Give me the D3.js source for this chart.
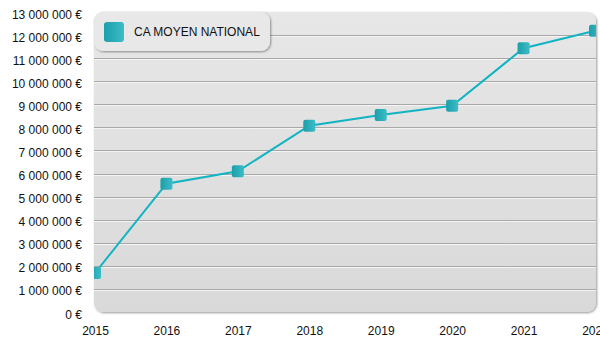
<!DOCTYPE html>
<html>
<head>
<meta charset="utf-8">
<script src="https://cdn.jsdelivr.net/npm/d3@7/dist/d3.min.js"></script>
<style>
  html, body { margin: 0; padding: 0; background: #fff; }
  svg { display: block; font-family: "Liberation Sans", Arial, sans-serif; }
</style>
</head>
<body>
<svg id="chart" width="600" height="350"></svg>
<script>
// Average national revenue per year
const years = ["2015", "2016", "2017", "2018", "2019", "2020", "2021", "2022"];
const revenue = [1690000, 5560000, 6100000, 8070000, 8540000, 8940000, 11430000, 12190000];
const yTicks = [0, 1000000, 2000000, 3000000, 4000000, 5000000, 6000000,
                7000000, 8000000, 9000000, 10000000, 11000000, 12000000, 13000000];
const seriesName = "CA MOYEN NATIONAL";

const svg = d3.select("#chart");
const plot = { left: 94, right: 596, top: 12, bottom: 312 };

const x = d3.scalePoint().domain(years).range([95, 595]);
const y = d3.scaleLinear().domain([0, 13000000]).range([plot.bottom, plot.top]);

const defs = svg.append("defs");

const bg = defs.append("linearGradient").attr("id", "bgGrad")
  .attr("x1", 0).attr("y1", 0).attr("x2", 0).attr("y2", 1);
bg.append("stop").attr("offset", "0%").attr("stop-color", "#e7e7e7");
bg.append("stop").attr("offset", "100%").attr("stop-color", "#d9d9d9");

const mk = defs.append("linearGradient").attr("id", "markGrad")
  .attr("x1", 0).attr("y1", 0).attr("x2", 1).attr("y2", 0);
mk.append("stop").attr("offset", "0%").attr("stop-color", "#1c9fab");
mk.append("stop").attr("offset", "100%").attr("stop-color", "#3cbcc6");

defs.append("clipPath").attr("id", "plotClip")
  .append("rect")
  .attr("x", plot.left).attr("y", plot.top)
  .attr("width", plot.right - plot.left).attr("height", plot.bottom - plot.top)
  .attr("rx", 9);

const shadow = defs.append("filter").attr("id", "shadow")
  .attr("x", "-10%").attr("y", "-10%").attr("width", "130%").attr("height", "130%");
shadow.append("feDropShadow").attr("dx", 1).attr("dy", 1)
  .attr("stdDeviation", 0.8).attr("flood-color", "#000").attr("flood-opacity", 0.4);

// Plot background with a soft edge shadow
svg.append("rect")
  .attr("x", plot.left).attr("y", plot.top)
  .attr("width", plot.right - plot.left).attr("height", plot.bottom - plot.top)
  .attr("rx", 9)
  .attr("fill", "url(#bgGrad)")
  .attr("filter", "url(#shadow)");

const inner = svg.append("g").attr("clip-path", "url(#plotClip)");

// Embossed gridlines: grey line with a white highlight beneath
const grid = inner.append("g");
yTicks.filter(t => t > 0 && t < 13000000).forEach(t => {
  const yy = Math.round(y(t));
  grid.append("line")
    .attr("x1", plot.left).attr("x2", plot.right)
    .attr("y1", yy + 0.5).attr("y2", yy + 0.5)
    .attr("stroke", "#a8a8a8").attr("stroke-width", 1);
  grid.append("line")
    .attr("x1", plot.left).attr("x2", plot.right)
    .attr("y1", yy + 1.5).attr("y2", yy + 1.5)
    .attr("stroke", "#f4f4f4").attr("stroke-width", 1);
});

// Series line
const line = d3.line()
  .x((d, i) => x(years[i]))
  .y(d => y(d));
inner.append("path")
  .datum(revenue)
  .attr("d", line)
  .attr("fill", "none")
  .attr("stroke", "#12b3c3")
  .attr("stroke-width", 2);

// Markers
inner.selectAll("rect.marker")
  .data(revenue)
  .join("rect")
  .attr("class", "marker")
  .attr("x", (d, i) => x(years[i]) - 6)
  .attr("y", d => y(d) - 6)
  .attr("width", 12).attr("height", 12)
  .attr("rx", 2)
  .attr("fill", "url(#markGrad)");

// Y axis
const fmt = v => d3.format(",")(v).replace(/,/g, " ") + " €";
const yAxis = svg.append("g")
  .attr("transform", "translate(82,0)")
  .call(d3.axisLeft(y).tickValues(yTicks).tickFormat(fmt).tickSize(0).tickPadding(0));
yAxis.select(".domain").remove();
yAxis.selectAll("text")
  .attr("font-size", 12)
  .attr("font-family", "'Liberation Sans', Arial, sans-serif")
  .attr("fill", "#111")
  .attr("dy", "0.5em");

// X axis
const xAxis = svg.append("g")
  .attr("transform", "translate(0,326)")
  .call(d3.axisBottom(x).tickSize(0).tickPadding(0));
xAxis.select(".domain").remove();
xAxis.selectAll("text")
  .attr("font-size", 12)
  .attr("font-family", "'Liberation Sans', Arial, sans-serif")
  .attr("fill", "#111");

// Legend
const legend = svg.append("g");
legend.append("rect")
  .attr("x", 94).attr("y", 12)
  .attr("width", 176).attr("height", 39)
  .attr("rx", 9)
  .attr("fill", "#e8e8e8")
  .attr("filter", "url(#shadow)");
legend.append("rect")
  .attr("x", 104).attr("y", 22)
  .attr("width", 20).attr("height", 20)
  .attr("rx", 3)
  .attr("fill", "url(#markGrad)");
legend.append("text")
  .attr("x", 134).attr("y", 32)
  .attr("dy", "0.35em")
  .attr("font-size", 12)
  .attr("fill", "#111")
  .text(seriesName);
</script>
</body>
</html>
